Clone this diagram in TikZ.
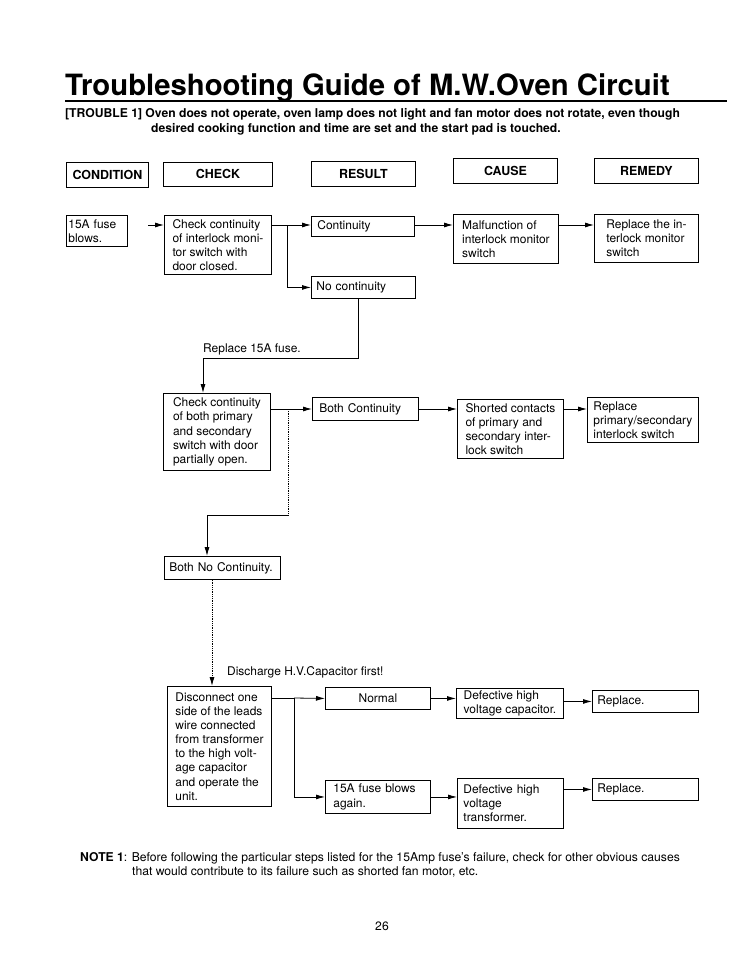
\documentclass[tikz,border=0pt]{standalone}
\usepackage{fontspec}
\setmainfont{TeX Gyre Heros}
\usetikzlibrary{arrows.meta}

\newcommand{\titlefont}{\fontsize{29.4}{32}\selectfont\bfseries}
\newcommand{\subfont}{\fontsize{12.2}{14}\selectfont\bfseries}
\newcommand{\boxfont}{\fontsize{12}{14.2}\selectfont}
\newcommand{\headfont}{\fontsize{12.5}{14}\selectfont\bfseries}
\newcommand{\notefont}{\fontsize{12.2}{14}\selectfont}

\begin{document}
\begin{tikzpicture}[x=1bp,y=-1bp,
  box/.style={draw,line width=0.9pt,anchor=north west,inner xsep=6bp,inner ysep=0pt,align=left,font=\boxfont},
  head/.style={draw,line width=0.9pt,anchor=north west,inner sep=0pt,align=center,font=\headfont},
  txt/.style={anchor=base west,inner sep=0pt},
  arr/.style={line width=0.8pt,-{Latex[length=9bp,width=5bp]}},
  link/.style={line width=0.8pt}]
\useasboundingbox (0,0) rectangle (750,970);

% title and trouble statement
\node[txt,font=\titlefont] (title) at (65,95) {Troubleshooting Guide of M.W.Oven Circuit};
\draw[line width=2bp] (65,101) -- (727,101);
\node[txt,font=\subfont] (trouble) at (65,117) {[TROUBLE 1] Oven does not operate, oven lamp does not light and fan motor does not rotate, even though};
\node[txt,font=\subfont] (trouble2) at (151,132) {desired cooking function and time are set and the start pad is touched.};

% column heads
\node[head,minimum width=82bp,minimum height=25bp] (hcond) at (66,162) {CONDITION};
\node[head,minimum width=109bp,minimum height=24bp] (hcheck) at (163,162) {CHECK};
\node[head,minimum width=104bp,minimum height=25bp] (hres) at (311,161) {RESULT};
\node[head,minimum width=104bp,minimum height=25bp] (hcause) at (453,158) {CAUSE};
\node[head,minimum width=104bp,minimum height=25bp] (hrem) at (594,158) {REMEDY};

% first check
\node[box,inner xsep=2bp,minimum width=61bp,minimum height=31bp,text width=57bp] (fuse) at (66,215) {15A fuse\\blows.};
\node[box,minimum width=107bp,minimum height=59bp] (chk1) at (164,215) {Check continuity\\of interlock moni-\\tor switch with\\door closed.};
\node[box,minimum width=103bp,minimum height=20bp,text width=91bp] (cont) at (311,216) {Continuity};
\node[box,inner xsep=5bp,minimum width=104bp,minimum height=22bp,text width=94bp] (nocont) at (311,276) {No continuity};
\node[box,minimum width=105bp,minimum height=49bp] (malf) at (453,214) {Malfunction of\\interlock monitor\\switch};
\node[box,minimum width=104bp,minimum height=48bp] (rep1) at (594,214) {Replace the  in-\\terlock monitor\\switch};
\node[txt,font=\boxfont] (newfuse) at (203,352) {Replace 15A fuse.};

\coordinate (in1) at (148,225);
\coordinate (br1) at (287,225);
\draw[arr] (in1) -- (chk1.west |- in1);
\draw[link] (chk1.east |- br1) -- (br1);
\draw[arr] (br1) -- (cont.west |- br1);
\draw[arr] (br1) |- (nocont.west);
\draw[arr] (cont.east |- br1) -- (malf.west |- br1);
\draw[arr] (malf.east |- br1) -- (rep1.west |- br1);
\coordinate (up1) at (358,0);
\coordinate (dn1) at (203,358);
\draw[link] (nocont.south -| up1) |- (dn1);

% second check
\node[box,minimum width=107bp,minimum height=77bp] (chk2) at (163,393) {Check continuity\\of both primary\\and secondary\\switch with door\\partially open.};
\node[box,inner xsep=7bp,minimum width=106bp,minimum height=23bp,text width=92bp] (both) at (312,397) {Both Continuity};
\node[box,minimum width=106bp,minimum height=59bp] (short) at (457,399) {Shorted contacts\\of primary and\\secondary inter-\\lock switch};
\node[box,minimum width=111bp,minimum height=45bp] (rep2) at (587,397) {Replace\\primary/secondary\\interlock switch};
\node[box,inner xsep=5bp,minimum width=116bp,minimum height=23bp,text width=106bp] (bnc) at (164,556) {Both No Continuity.};

\draw[arr] (dn1) -- (dn1 |- chk2.north);
\coordinate (br2) at (288,409);
\coordinate (br3) at (288,515);
\coordinate (dn2) at (207,515);
\draw[link] (chk2.east |- br2) -- (br2);
\draw[arr] (br2) -- (both.west |- br2);
\draw[arr] (both.east |- br2) -- (short.west |- br2);
\draw[arr] (short.east |- br2) -- (rep2.west |- br2);
\draw[link,densely dotted] (br2) -- (br3);
\draw[link] (br3) -- (dn2);
\draw[arr] (dn2) -- (dn2 |- bnc.north);

% third check
\node[txt,font=\boxfont] (dischg) at (227,675) {Discharge H.V.Capacitor first!};
\node[box,minimum width=104bp,minimum height=120bp] (disc) at (167,686) {Disconnect one\\side of the leads\\wire connected\\from transformer\\to the high volt-\\age capacitor\\and operate the\\unit.};
\node[box,minimum width=105bp,minimum height=22bp,text width=93bp,align=center] (normal) at (325,687) {Normal};
\node[box,inner xsep=8bp,minimum width=105bp,minimum height=33bp,text width=89bp] (again) at (325,780) {15A fuse blows\\again.};
\node[box,minimum width=107bp,minimum height=30bp] (defcap) at (456,688) {Defective high\\voltage capacitor.};
\node[box,minimum width=106bp,minimum height=50bp,text width=94bp] (deftr) at (457,778) {Defective high\\voltage\\transformer.};
\node[box,inner xsep=5bp,minimum width=106bp,minimum height=22bp,text width=96bp] (rep3) at (592,690) {Replace.};
\node[box,inner xsep=5bp,minimum width=106bp,minimum height=22bp,text width=96bp] (rep4) at (592,778) {Replace.};

\coordinate (dn3) at (212,580);
\draw[arr,densely dotted] (bnc.south -| dn3) -- (disc.north -| dn3);
\coordinate (br4) at (294,698);
\draw[link] (disc.east |- br4) -- (br4);
\draw[arr] (br4) -- (normal.west);
\draw[arr] (br4) |- (again.west);
\draw[arr] (normal.east) -- (defcap.west |- normal.east);
\draw[arr] (defcap.east |- rep3.west) -- (rep3.west);
\draw[arr] (again.east) -- (deftr.west |- again.east);
\draw[arr] (deftr.east |- rep4.west) -- (rep4.west);

% note and page number
\node[txt,font=\notefont] (note) at (80,861) {\textbf{NOTE 1}: Before following the particular steps listed for the 15Amp fuse's failure, check for other obvious causes};
\node[txt,font=\notefont] (note2) at (132,875) {that would contribute to its failure such as shorted fan motor, etc.};
\node[anchor=base,inner sep=0pt,font=\notefont] (page) at (382,930) {26};
\end{tikzpicture}
\end{document}
